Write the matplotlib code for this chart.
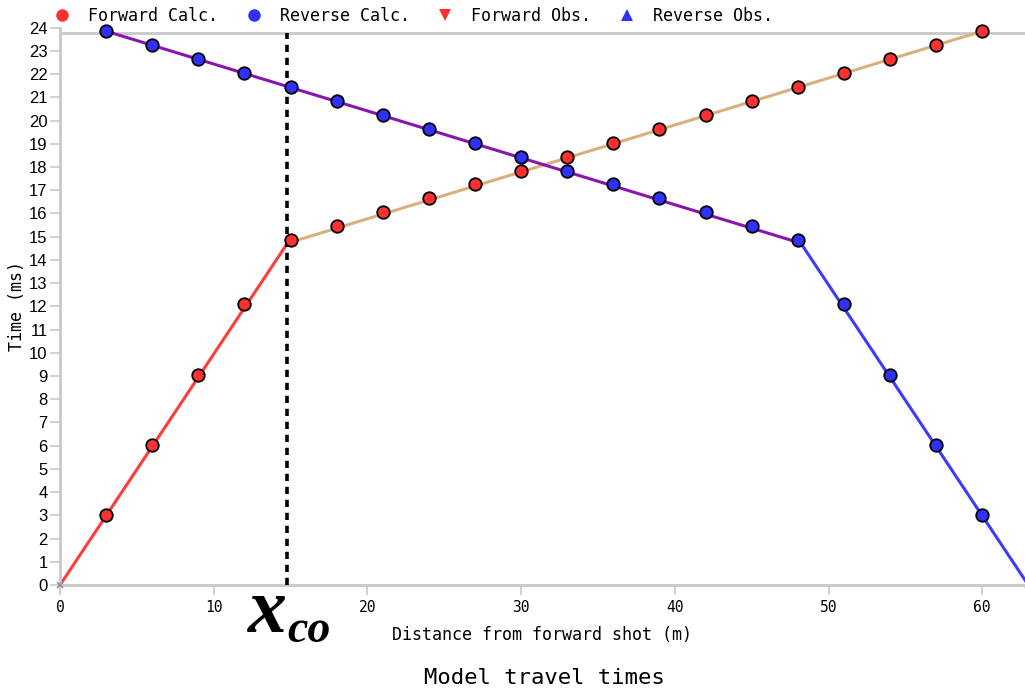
import matplotlib
matplotlib.use("Agg")
import matplotlib.pyplot as plt

# ---- data ----
fwd_x = [3, 6, 9, 12, 15, 18, 21, 24, 27, 30, 33, 36, 39, 42, 45, 48, 51, 54, 57, 60]
fwd_t = [3.0, 6.05, 9.05, 12.12, 14.85, 15.45, 16.05, 16.65, 17.25, 17.85, 18.45,
         19.05, 19.65, 20.25, 20.85, 21.45, 22.05, 22.65, 23.25, 23.85]
rev_x = [3, 6, 9, 12, 15, 18, 21, 24, 27, 30, 33, 36, 39, 42, 45, 48, 51, 54, 57, 60]
rev_t = [23.85, 23.25, 22.65, 22.05, 21.45, 20.85, 20.25, 19.65, 19.05, 18.45, 17.85,
         17.25, 16.65, 16.05, 15.45, 14.85, 12.12, 9.05, 6.05, 3.0]
fwd_obs_x, fwd_obs_t = [], []
rev_obs_x, rev_obs_t = [], []

fwd_direct_x = [0, 14.8]
fwd_direct_t = [0, 14.72]
fwd_refr_x = [14.8, 60]
fwd_refr_t = [14.72, 23.85]
rev_direct_x = [63, 48.2]
rev_direct_t = [0, 14.72]
rev_refr_x = [48.2, 3]
rev_refr_t = [14.72, 23.85]

shot_x = [0, 63]
shot_t = [0, 0]
x_crossover = 14.8

x_ticks = [0, 10, 20, 30, 40, 50, 60]
y_ticks = list(range(0, 25))

W, H = 1025, 690
fig = plt.figure(figsize=(W / 100, H / 100), dpi=100)
left_px, right_px, bottom_px, top_px = 60, 1025, 585, 27.7
ax = fig.add_axes([left_px / W, (H - bottom_px) / H,
                   (right_px - left_px) / W, (bottom_px - top_px) / H])
ax.set_xlim(0, (right_px - left_px) / 15.37)
ax.set_ylim(0, 24)

mono = "DejaVu Sans Mono"
grey = "#c8c8c8"

# lines
ax.plot(fwd_direct_x, fwd_direct_t, color="#ff3b3b", lw=2.2, zorder=2)
ax.plot(fwd_refr_x, fwd_refr_t, color="#d8b07e", lw=2.2, zorder=2)
ax.plot(rev_direct_x, rev_direct_t, color="#3b3bff", lw=2.2, zorder=2, clip_on=False)
ax.plot(rev_refr_x, rev_refr_t, color="#8a14b0", lw=2.2, zorder=2)

# crossover line
ax.axvline(x_crossover, ymin=0, ymax=23.77 / 24, color="black", lw=2.6,
           linestyle=(0, (2.0, 1.6)), zorder=3)

# points
h1, = ax.plot(fwd_x, fwd_t, "o", ms=9, mfc="#ff3030", mec="black", mew=1.3,
              ls="none", zorder=4, clip_on=False, label="Forward Calc.")
h2, = ax.plot(rev_x, rev_t, "o", ms=9, mfc="#3030ff", mec="black", mew=1.3,
              ls="none", zorder=4, clip_on=False, label="Reverse Calc.")
h3, = ax.plot(fwd_obs_x, fwd_obs_t, "v", ms=9, color="#ff3030", ls="none",
              label="Forward Obs.")
h4, = ax.plot(rev_obs_x, rev_obs_t, "^", ms=9, color="#3030ff", ls="none",
              label="Reverse Obs.")
ax.plot(shot_x, shot_t, "x", ms=5, color="#909090", mew=1.2, ls="none",
        zorder=5, clip_on=False)

# top grey line
ax.axhline(23.77, color=grey, lw=2, zorder=1)

# spines / ticks
for s in ["top", "right"]:
    ax.spines[s].set_visible(False)
for s in ["left", "bottom"]:
    ax.spines[s].set_color(grey)
    ax.spines[s].set_linewidth(2)
ax.set_xticks(x_ticks)
ax.set_yticks(y_ticks)
ax.tick_params(axis="both", colors=grey, length=7, width=1.2, labelcolor="black")
ax.tick_params(axis="x", labelsize=10.5, pad=4)
ax.tick_params(axis="y", labelsize=12, pad=2)
for lab in ax.get_xticklabels():
    lab.set_fontfamily(mono)
for lab in ax.get_yticklabels():
    lab.set_fontfamily("Liberation Sans")

ax.set_xlabel("Distance from forward shot (m)", fontfamily=mono, fontsize=12,
              labelpad=8)
ax.set_ylabel("Time (ms)", fontfamily=mono, fontsize=12, labelpad=2)

fig.text(544 / W, 1 - 678 / H, "Model travel times", fontfamily=mono,
         fontsize=16, ha="center", va="center")

# x_co annotation
fig.text(248 / W, 1 - 632 / H, "x", fontfamily="Liberation Serif",
         fontweight="bold", fontstyle="italic", fontsize=56, ha="left",
         va="baseline")
fig.text(287 / W, 1 - 642 / H, "co", fontfamily="Liberation Serif",
         fontweight="bold", fontstyle="italic", fontsize=33, ha="left",
         va="baseline")

leg = fig.legend(handles=[h1, h2, h3, h4], loc="center left",
                 bbox_to_anchor=(52 / W, 1 - 16 / H), ncol=4, frameon=False,
                 prop={"family": mono, "size": 12}, handlelength=1.2,
                 handletextpad=0.95, columnspacing=1.55, borderaxespad=0,
                 borderpad=0)
for h in leg.legend_handles:
    h.set_markeredgewidth(0)

fig.savefig("out.png", dpi=100)
